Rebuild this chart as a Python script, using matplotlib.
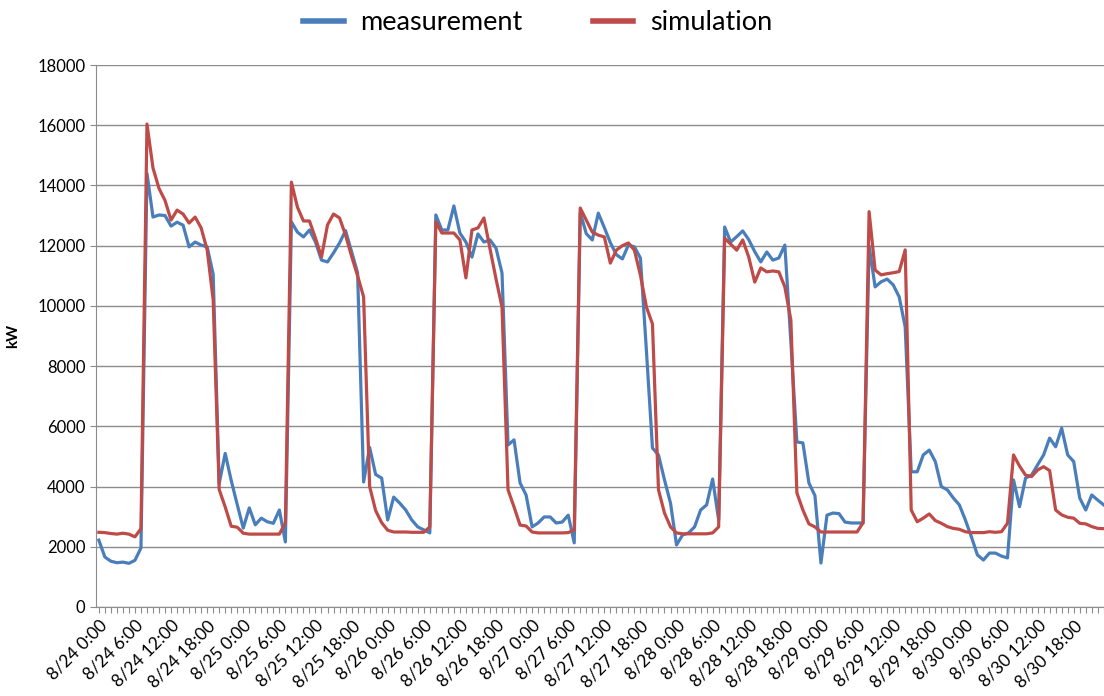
import numpy as np
import matplotlib
matplotlib.use("Agg")
import matplotlib.pyplot as plt

plt.rcParams['font.family'] = ['Lato', 'DejaVu Sans']

# hourly values, 8/24 0:00 .. 8/30 23:00
measurement = [
    2220, 1660, 1520, 1470, 1490, 1450, 1550, 1960,
    14400, 12950, 13020, 13000, 12650, 12780, 12680, 11960, 12120, 12020, 11960, 11050,
    4100, 5100, 4200, 3400, 2620, 3290, 2730, 2950, 2830, 2780, 3220, 2160,
    12790, 12450, 12290, 12520, 12120, 11520, 11460, 11760, 12090, 12500, 11800, 11100,
    4150, 5300, 4400, 4280, 2890, 3650, 3450, 3220, 2890, 2660, 2560, 2460,
    13020, 12520, 12520, 13320, 12420, 12120, 11620, 12390, 12120, 12190, 11920, 11090,
    5380, 5550, 4120, 3720, 2660, 2790, 2990, 2990, 2790, 2820, 3050, 2130,
    13100, 12400, 12190, 13080, 12600, 12100, 11700, 11560, 12020, 11960, 11590, 8500,
    5280, 5050, 4220, 3450, 2060, 2390, 2460, 2660, 3220, 3390, 4250, 2890,
    12620, 12120, 12300, 12490, 12200, 11800, 11460, 11790, 11520, 11590, 12020, 8800,
    5480, 5450, 4120, 3700, 1460, 3050, 3120, 3100, 2820, 2790, 2790, 2790,
    12000, 10630, 10800, 10890, 10700, 10300, 9300, 4490,
    4490, 5050, 5210, 4830, 4000, 3890, 3620, 3390, 2890, 2330, 1730, 1560,
    1790, 1790, 1690, 1630, 4220, 3330, 4280, 4380, 4720, 5050, 5610, 5320,
    5940, 5050, 4830, 3620, 3220, 3720, 3550, 3390,
]
simulation = [
    2480, 2470, 2440, 2420, 2450, 2420, 2330, 2600,
    16040, 14580, 13900, 13500, 12850, 13180, 13050, 12750, 12950, 12590, 11860, 10200,
    3900, 3320, 2680, 2650, 2450, 2420, 2420, 2420, 2420, 2420, 2420, 2800,
    14110, 13280, 12820, 12820, 12250, 11620, 12690, 13050, 12920, 12350, 11650, 11000,
    10300, 4000, 3200, 2800, 2550, 2490, 2490, 2490, 2480, 2480, 2480, 2660,
    12790, 12420, 12420, 12420, 12190, 10930, 12520, 12590, 12920, 11900, 10900, 9960,
    3890, 3320, 2720, 2690, 2490, 2460, 2460, 2460, 2460, 2460, 2470, 2560,
    13250, 12850, 12450, 12350, 12290, 11420, 11850, 12000, 12090, 11850, 11020, 9960,
    9400, 3890, 3120, 2660, 2460, 2430, 2430, 2430, 2430, 2430, 2460, 2660,
    12250, 12050, 11850, 12190, 11620, 10790, 11260, 11130, 11160, 11130, 10630, 9530,
    3790, 3220, 2760, 2660, 2490, 2490, 2490, 2490, 2490, 2490, 2490, 2800,
    13130, 11190, 11030, 11070, 11100, 11140, 11860, 3220,
    2830, 2950, 3090, 2870, 2780, 2670, 2610, 2580, 2500, 2470, 2470, 2470,
    2500, 2480, 2500, 2780, 5050, 4680, 4380, 4330, 4550, 4660, 4530, 3220,
    3060, 2980, 2950, 2780, 2760, 2670, 2610, 2600,
]
days = [24, 25, 26, 27, 28, 29, 30]
label_hours = [0, 6, 12, 18]

hours = np.arange(len(measurement))
tick_pos = [i * 24 + h for i in range(len(days)) for h in label_hours]
tick_lab = ['8/%d %d:00' % (d, h) for d in days for h in label_hours]

fig = plt.figure(figsize=(11.04, 6.96), dpi=100)
ax = fig.add_axes([0.0868, 0.1279, 0.913, 0.7787])

ax.plot(hours, measurement, color='#4A7EBB', lw=2.3, label='measurement')
ax.plot(hours, simulation, color='#BE4B48', lw=2.3, label='simulation')

ax.set_ylim(0, 18000)
ax.set_xlim(-0.5, 166.7)
ax.set_yticks(np.arange(0, 18001, 2000))
ax.yaxis.grid(True, color='#8c8c8c', lw=1.0)
ax.set_axisbelow(True)

ax.set_xticks(tick_pos)
ax.set_xticklabels(tick_lab, rotation=45, ha='right', rotation_mode='anchor', fontsize=12.5)
ax.set_xticks(hours, minor=True)
ax.tick_params(axis='x', which='both', length=4, color='#8c8c8c', width=0.8)
ax.tick_params(axis='y', length=4, color='#8c8c8c', labelsize=12)

for s in ['top', 'right']:
    ax.spines[s].set_visible(False)
for s in ['left', 'bottom']:
    ax.spines[s].set_color('#8c8c8c')

ax.set_ylabel('kW', fontsize=11, fontweight='bold', labelpad=12)

leg = fig.legend(loc='upper center', bbox_to_anchor=(0.487, 1.02), ncol=2, frameon=False,
                 fontsize=19.5, handlelength=1.5, handletextpad=0.6, columnspacing=2.6)
for h in leg.get_lines():
    h.set_linewidth(4)

plt.savefig('out.png', dpi=100)
